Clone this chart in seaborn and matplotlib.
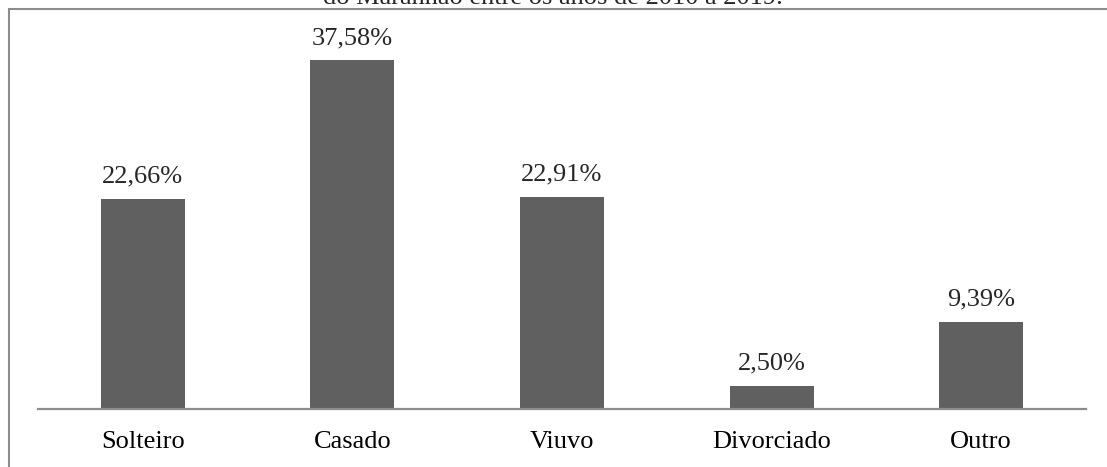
import matplotlib
matplotlib.use("Agg")
import matplotlib.pyplot as plt
import seaborn as sns
import pandas as pd
from matplotlib.patches import Rectangle

categorias = ["Solteiro", "Casado", "Viuvo", "Divorciado", "Outro"]
percentuais = [22.66, 37.58, 22.91, 2.50, 9.39]

sns.set_style("white")
plt.rcParams["font.family"] = ["Liberation Serif", "DejaVu Serif"]

df = pd.DataFrame({"estado_civil": categorias, "pct": percentuais})

fig = plt.figure(figsize=(11.07, 4.67), dpi=100)
W, H = 1107, 467
ax = fig.add_axes([38 / W, 1 - 409 / H, (1086 - 38) / W, (409 - 38) / H])

sns.barplot(data=df, x="estado_civil", y="pct", color="#606060",
            saturation=1, width=0.4, ax=ax)
for p in ax.patches:
    p.set_edgecolor("none")

ax.set_xlim(-0.5, 4.5)
ax.set_ylim(0, 40)
ax.set_xlabel("")
ax.set_ylabel("")
ax.set_yticks([])
for s in ["top", "right", "left"]:
    ax.spines[s].set_visible(False)
ax.spines["bottom"].set_color("#8c8c8c")
ax.spines["bottom"].set_linewidth(1.6)
ax.tick_params(axis="x", length=0, labelsize=19, pad=16, colors="black")

rotulos = [f"{v:.2f}".replace(".", ",") + "%" for v in percentuais]
ax.bar_label(ax.containers[0], labels=rotulos, padding=8, fontsize=19)

# moldura do gráfico
fig.patches.append(Rectangle((9 / W, -0.1), 1.2, 1 - 9 / H + 0.1,
                             transform=fig.transFigure, fill=False,
                             edgecolor="#8c8c8c", linewidth=1.5))

fig.text(553 / W, 1 - 4.5 / H, "do Maranhão entre os anos de 2010 a 2019.",
         ha="center", va="baseline", fontsize=19)

fig.savefig("out.png", dpi=100)
